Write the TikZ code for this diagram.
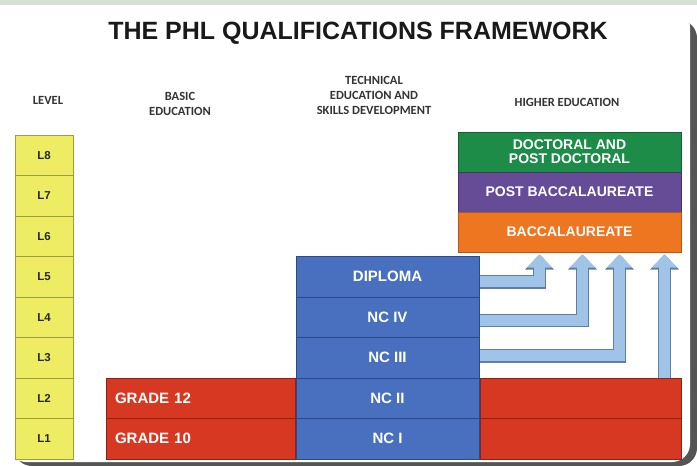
\documentclass[tikz,border=0pt]{standalone}
\usepackage{fontspec}
\setmainfont{Liberation Sans}
\newfontfamily\headfont{Carlito}
\usetikzlibrary{arrows.meta}

\definecolor{framegreen}{RGB}{214,224,212}
\definecolor{shadowgray}{RGB}{85,85,85}
\definecolor{lvlyellow}{RGB}{238,236,98}
\definecolor{lvledge}{RGB}{160,158,60}
\definecolor{basicred}{RGB}{214,56,34}
\definecolor{rededge}{RGB}{140,35,22}
\definecolor{tesdblue}{RGB}{72,112,190}
\definecolor{blueedge}{RGB}{44,74,138}
\definecolor{docgreen}{RGB}{28,140,72}
\definecolor{postpurple}{RGB}{102,76,150}
\definecolor{bacorange}{RGB}{238,118,32}
\definecolor{arrowfill}{RGB}{160,195,232}
\definecolor{arrowedge}{RGB}{95,125,165}

\begin{document}
\begin{tikzpicture}[x=1pt,y=-1pt,
  title/.style={font=\fontsize{25}{30}\selectfont\bfseries,text=black!90},
  head/.style={align=center,font=\headfont\bfseries\fontsize{12.5}{15}\selectfont,text=black!80},
  lvl/.style={shape=rectangle,draw=lvledge,fill=lvlyellow,line width=1pt,minimum width=58pt,minimum height=40.5pt,inner sep=0pt,font=\fontsize{11.5}{13}\selectfont\bfseries,text=black!85},
  qbox/.style={shape=rectangle,line width=1pt,minimum height=40.5pt,inner sep=0pt,text=white,font=\fontsize{15}{17}\selectfont\bfseries},
  redbox/.style={qbox,draw=rededge,fill=basicred},
  bluebox/.style={qbox,draw=blueedge,fill=tesdblue,minimum width=183pt},
  hebox/.style={qbox,minimum width=223pt,minimum height=40pt,align=center,font=\fontsize{14}{14}\selectfont\bfseries},
  uparrow/.style={draw=arrowfill,line width=11pt,-{Triangle[length=13pt,width=24pt]},
    preaction={draw=arrowedge,line width=13.5pt,-{Triangle[length=15pt,width=28pt]}}}]

% frame
\useasboundingbox (0,0) rectangle (697,466);
\fill[framegreen] (0,0) rectangle (697,5);
\fill[shadowgray,rounded corners=18pt] (14,20) rectangle (697,466);
\fill[white,rounded corners=18pt] (8,9) rectangle (690,462);

\node[title] (ttl) at (358,33) {THE PHL QUALIFICATIONS FRAMEWORK};

\node[head] (hlvl) at (48,100) {LEVEL};
\node[head] (hbas) at (180,104) {BASIC\\EDUCATION};
\node[head] (htec) at (374,95) {TECHNICAL\\EDUCATION AND\\SKILLS DEVELOPMENT};
\node[head] (hhig) at (567,102) {HIGHER EDUCATION};

% levels
\node[lvl] (l8) at (44,155.25) {L8};
\node[lvl] (l7) at (44,195.75) {L7};
\node[lvl] (l6) at (44,236.25) {L6};
\node[lvl] (l5) at (44,276.75) {L5};
\node[lvl] (l4) at (44,317.25) {L4};
\node[lvl] (l3) at (44,357.75) {L3};
\node[lvl] (l2) at (44,398.25) {L2};
\node[lvl] (l1) at (44,438.75) {L1};

% basic education
\node[redbox,text width=171pt,inner xsep=9pt,align=left] (g12) at (200.5,398.25) {GRADE 12};
\node[redbox,text width=171pt,inner xsep=9pt,align=left] (g10) at (200.5,438.75) {GRADE 10};

% technical education and skills development
\node[bluebox] (dip) at (387.5,276.75) {DIPLOMA};
\node[bluebox] (nc4) at (387.5,317.25) {NC IV};
\node[bluebox] (nc3) at (387.5,357.75) {NC III};
\node[bluebox] (nc2) at (387.5,398.25) {NC II};
\node[bluebox] (nc1) at (387.5,438.75) {NC I};

% higher education
\node[redbox,minimum width=201pt] (rb2) at (580.5,398.25) {};
\node[redbox,minimum width=201pt] (rb1) at (580.5,438.75) {};
\node[hebox,draw=docgreen!70!black,fill=docgreen] (doc) at (569.5,152) {DOCTORAL AND\\POST DOCTORAL};
\node[hebox,draw=postpurple!70!black,fill=postpurple] (pbac) at (569.5,192) {POST BACCALAUREATE};
\node[hebox,draw=bacorange!75!black,fill=bacorange] (bac) at (569.5,232) {BACCALAUREATE};

\coordinate (ax1) at ([xshift=82pt,yshift=-2pt]bac.south west);
\coordinate (ax2) at ([xshift=125pt,yshift=-2pt]bac.south west);
\coordinate (ax3) at ([xshift=162pt,yshift=-2pt]bac.south west);
\coordinate (ax4) at ([xshift=207pt,yshift=-2pt]bac.south west);

\draw[uparrow] ([yshift=-5pt]dip.east) -| (ax1);
\draw[uparrow] ([yshift=-3pt]nc4.east) -| (ax2);
\draw[uparrow] ([yshift=2pt]nc3.east) -| (ax3);
\draw[uparrow] (ax4 |- rb2.north) -- (ax4);
\end{tikzpicture}
\end{document}
